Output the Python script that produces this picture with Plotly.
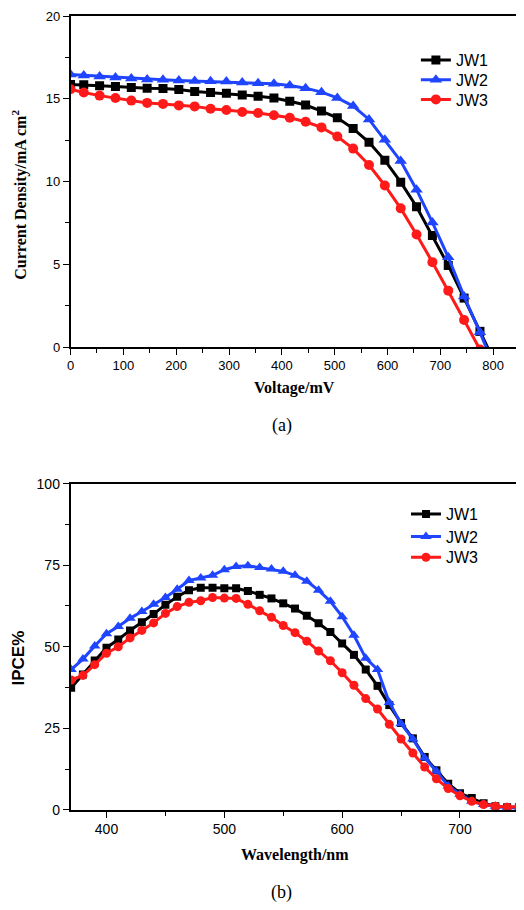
import plotly.graph_objects as go

# ---------- Data: panel (a) J-V curves ----------
voltage_mv = [0, 25, 55, 85, 115, 145, 175, 205, 235, 265, 295, 325, 355, 385,
              415, 445, 475, 505, 535, 565, 595, 625, 655, 685, 715, 745, 775, 805]
jv_jw1 = [15.86, 15.84, 15.78, 15.74, 15.68, 15.64, 15.62, 15.56, 15.44, 15.38,
          15.33, 15.23, 15.15, 15.05, 14.85, 14.62, 14.26, 13.85, 13.20, 12.37,
          11.28, 9.96, 8.48, 6.74, 4.93, 2.96, 0.95, -1.05]
jv_jw2 = [16.46, 16.41, 16.35, 16.29, 16.23, 16.17, 16.15, 16.11, 16.08, 16.06,
          16.04, 15.98, 15.94, 15.90, 15.80, 15.64, 15.40, 15.05, 14.56, 13.75,
          12.52, 11.24, 9.51, 7.53, 5.43, 3.06, 0.89, -1.40]
jv_jw3 = [15.58, 15.38, 15.19, 15.05, 14.89, 14.75, 14.69, 14.60, 14.54, 14.40,
          14.32, 14.20, 14.14, 14.00, 13.85, 13.61, 13.27, 12.72, 11.99, 11.00,
          9.76, 8.38, 6.80, 5.13, 3.41, 1.64, -0.15, -2.00]

# ---------- Data: panel (b) IPCE ----------
wavelength_nm = list(range(370, 751, 10))
ipce_jw1 = [37.4, 41.5, 45.8, 49.7, 52.2, 55.0, 57.5, 60.0, 62.9, 65.3,
            67.3, 68.1, 68.1, 67.9, 67.9, 67.1, 65.9, 64.8, 63.3, 61.7,
            59.5, 57.2, 54.5, 51.0, 47.5, 43.0, 38.0, 32.1, 26.6, 21.9,
            16.2, 12.1, 8.0, 5.1, 3.6, 2.0, 1.1, 0.8, 0.8]
ipce_jw2 = [43.0, 46.2, 50.2, 54.0, 56.2, 58.7, 60.8, 63.0, 65.1, 67.6,
            70.3, 71.1, 71.9, 73.6, 74.6, 74.8, 74.3, 73.8, 73.1, 71.9,
            70.1, 67.3, 63.9, 59.2, 53.5, 46.5, 43.0, 32.9, 26.4, 21.7,
            15.9, 11.8, 7.3, 4.8, 2.6, 1.6, 1.1, 0.8, 0.8]
ipce_jw3 = [39.8, 41.2, 44.5, 48.0, 50.0, 52.7, 55.0, 57.3, 60.2, 62.3,
            63.6, 64.1, 65.1, 64.9, 64.8, 63.0, 61.0, 59.0, 56.5, 54.3,
            51.7, 48.7, 45.7, 42.0, 38.2, 34.1, 30.9, 26.2, 21.7, 17.4,
            13.1, 9.5, 6.5, 4.3, 2.6, 1.6, 1.1, 0.8, 1.0]

series_names = ["JW1", "JW2", "JW3"]
series_colors = ["#000000", "#1f45ff", "#ff1a1a"]
series_symbols = ["square", "triangle-up", "circle"]

W, H = 524, 910
PAGE_OFFSET = 8  # the page body margin shifts the figure by 8px


def fx(p):
    """paper x fraction for a target pixel column of the final picture"""
    return (p - PAGE_OFFSET) / W


def fy(p):
    """paper y fraction for a target pixel row of the final picture"""
    return min(1.0, (H + PAGE_OFFSET - p) / H)


fig = go.Figure()

jv_sets = [jv_jw1, jv_jw2, jv_jw3]
ipce_sets = [ipce_jw1, ipce_jw2, ipce_jw3]
sizes_a = [9, 11, 10]
sizes_b = [8, 10, 9]
legend_ids_a = ["legend", "legend2", "legend3"]
legend_ids_b = ["legend4", "legend5", "legend6"]

for name, col, sym, ys, sz, lg in zip(series_names, series_colors, series_symbols,
                                      jv_sets, sizes_a, legend_ids_a):
    fig.add_trace(go.Scatter(
        x=voltage_mv, y=ys, name=name, mode="lines+markers",
        line=dict(color=col, width=3),
        marker=dict(symbol=sym, size=sz, color=col),
        xaxis="x", yaxis="y", legend=lg))

for name, col, sym, ys, sz, lg in zip(series_names, series_colors, series_symbols,
                                      ipce_sets, sizes_b, legend_ids_b):
    fig.add_trace(go.Scatter(
        x=wavelength_nm, y=ys, name=name, mode="lines+markers",
        line=dict(color=col, width=3),
        marker=dict(symbol=sym, size=sz, color=col),
        xaxis="x2", yaxis="y2", legend=lg))


def axis_style(fontsize):
    return dict(showline=True, linecolor="black", linewidth=1.6, mirror=True,
                ticks="outside", ticklen=6, tickwidth=1.3, tickcolor="black",
                showgrid=False, zeroline=False,
                tickfont=dict(family="Arial, Liberation Sans", size=fontsize, color="black"))


def minor_style(step):
    return dict(dtick=step, ticks="outside", ticklen=4, tickwidth=1.2, tickcolor="black")


xdom = [fx(67), fx(520)]

layout = dict(
    width=W, height=H, paper_bgcolor="white", plot_bgcolor="white",
    margin=dict(l=0, r=0, t=0, b=0),
    showlegend=True,
    xaxis=dict(domain=xdom, range=[0, 851], anchor="y", dtick=100, tick0=0,
               minor=minor_style(50), **axis_style(13)),
    yaxis=dict(domain=[fy(345), fy(7)], range=[0, 20], anchor="x", dtick=5,
               minor=minor_style(2.5), **axis_style(13)),
    xaxis2=dict(domain=xdom, range=[369.5, 751], anchor="y2", dtick=100, tick0=0,
                minor=minor_style(50), **axis_style(14)),
    yaxis2=dict(domain=[fy(816), fy(484)], range=[0, 100], anchor="x2", dtick=25,
                minor=minor_style(12.5), **axis_style(14)),
)

legend_font = dict(family="Arial, Liberation Sans", size=16, color="black")
legend_rows_a = [53, 73, 93]
legend_rows_b = [515, 538, 559]
for lg, row in zip(legend_ids_a, legend_rows_a):
    layout[lg] = dict(x=fx(415), y=fy(row), xanchor="left", yanchor="middle",
                      bgcolor="rgba(0,0,0,0)", borderwidth=0, font=legend_font)
for lg, row in zip(legend_ids_b, legend_rows_b):
    layout[lg] = dict(x=fx(405), y=fy(row), xanchor="left", yanchor="middle",
                      bgcolor="rgba(0,0,0,0)", borderwidth=0, font=legend_font)

fig.update_layout(**layout)

serif_bold = dict(family="Times New Roman, Liberation Serif, serif", size=16, color="black")
serif = dict(family="Times New Roman, Liberation Serif, serif", size=18, color="black")

annotations = [
    dict(text="<b>Current Density/mA cm<sup>2</sup></b>", x=fx(16), y=fy(190),
         textangle=-90, font=serif_bold),
    dict(text="<b>Voltage/mV</b>", x=fx(293), y=fy(387), font=serif_bold),
    dict(text="(a)", x=fx(280), y=fy(425), font=serif),
    dict(text="<b>IPCE%</b>", x=fx(15), y=fy(661), textangle=-90,
         font=dict(family="Arial, Liberation Sans", size=17, color="black")),
    dict(text="<b>Wavelength/nm</b>", x=fx(293), y=fy(862), font=serif_bold),
    dict(text="(b)", x=fx(280), y=fy(900), font=serif),
]
for a in annotations:
    a.update(xref="paper", yref="paper", showarrow=False, xanchor="center", yanchor="middle")
fig.update_layout(annotations=annotations)

fig.write_html("out.html")
